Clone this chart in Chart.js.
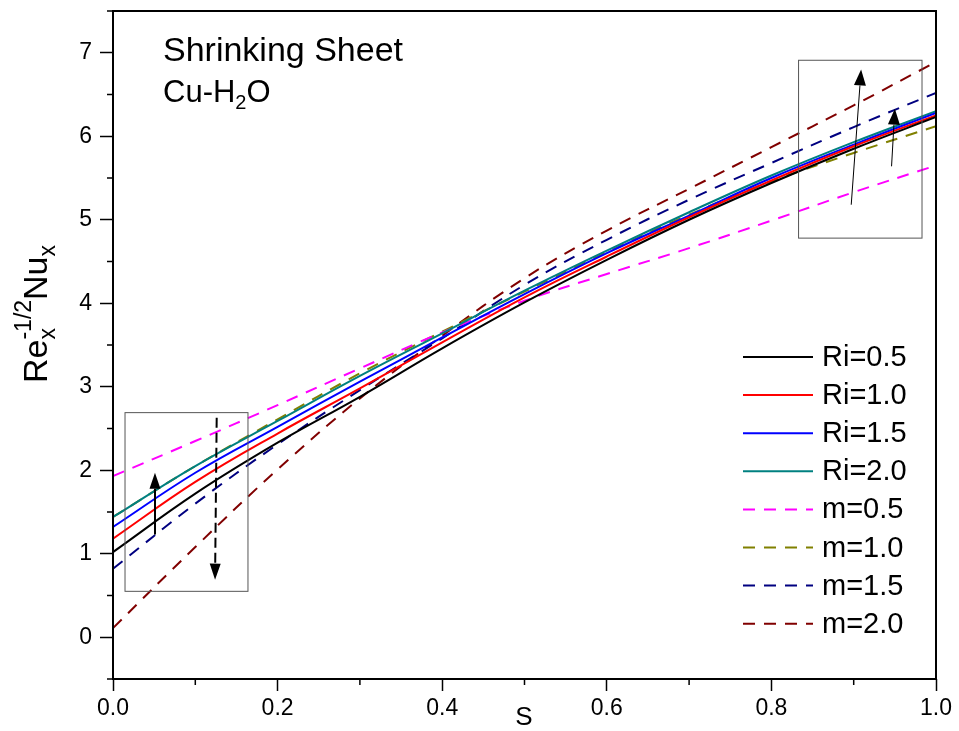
<!DOCTYPE html>
<html>
<head>
<meta charset="utf-8">
<script src="https://cdn.jsdelivr.net/npm/chart.js@4/dist/chart.umd.min.js"></script>
<style>
  body { margin: 0; background: #fff; }
  #wrap { width: 959px; height: 731px; }
</style>
</head>
<body>
<div id="wrap"><canvas id="nuChart"></canvas></div>
<script>
// S values (x axis)
const sValues = [0, 0.1, 0.2, 0.3, 0.4, 0.5, 0.6, 0.7, 0.8, 0.9, 1.0];

// Ri series (solid)
const ri05 = [1.02, 1.72, 2.33, 2.88, 3.46, 4.01, 4.52, 5.00, 5.44, 5.85, 6.23];
const ri10 = [1.18, 1.86, 2.44, 2.98, 3.53, 4.07, 4.56, 5.03, 5.47, 5.88, 6.25];
const ri15 = [1.32, 1.97, 2.52, 3.06, 3.59, 4.11, 4.60, 5.05, 5.50, 5.90, 6.28];
const ri20 = [1.44, 2.05, 2.59, 3.13, 3.64, 4.15, 4.63, 5.09, 5.53, 5.93, 6.30];

// m series (dashed)
const m05 = [1.93, 2.35, 2.78, 3.22, 3.65, 4.03, 4.35, 4.66, 4.99, 5.33, 5.65];
const m10 = [1.44, 2.05, 2.61, 3.16, 3.66, 4.14, 4.61, 5.06, 5.46, 5.80, 6.12];
const m15 = [0.82, 1.60, 2.31, 2.96, 3.58, 4.22, 4.76, 5.24, 5.68, 6.11, 6.52];
const m20 = [0.11, 1.08, 2.01, 2.86, 3.61, 4.30, 4.87, 5.37, 5.87, 6.37, 6.89];

const seriesLabels = ['Ri=0.5', 'Ri=1.0', 'Ri=1.5', 'Ri=2.0', 'm=0.5', 'm=1.0', 'm=1.5', 'm=2.0'];
const seriesValues = [ri05, ri10, ri15, ri20, m05, m10, m15, m20];
const seriesColors = ['#000000', '#ff0000', '#0000ff', '#008080', '#ff00ff', '#808000', '#000080', '#800000'];

const FONT = '"Liberation Sans", Arial, sans-serif';

function isMajor(v, step) {
  const r = v / step;
  return Math.abs(r - Math.round(r)) < 1e-6;
}

const datasets = seriesValues.map((vals, i) => ({
  label: seriesLabels[i],
  data: vals.map((v, j) => ({ x: sValues[j], y: v })),
  borderColor: seriesColors[i],
  borderWidth: 2,
  borderDash: i >= 4 ? [12, 9] : [],
  pointRadius: 0,
  fill: false,
  tension: 0.4
}));

// frame, minor ticks, titles, legend, boxes and arrows
const decorPlugin = {
  id: 'decor',
  afterDraw(chart) {
    const ctx = chart.ctx;
    const a = chart.chartArea;
    const xs = chart.scales.x;
    const ys = chart.scales.y;
    ctx.save();

    // frame
    ctx.strokeStyle = '#000';
    ctx.lineWidth = 2;
    ctx.setLineDash([]);
    ctx.strokeRect(a.left, a.top, a.right - a.left, a.bottom - a.top);

    // minor ticks
    ctx.lineWidth = 1.5;
    ctx.beginPath();
    for (let v = 0.1; v < 1; v += 0.2) {
      const px = xs.getPixelForValue(v);
      ctx.moveTo(px, a.bottom); ctx.lineTo(px, a.bottom + 6);
    }
    for (let v = -0.5; v <= 7.5; v += 1) {
      const py = ys.getPixelForValue(v);
      ctx.moveTo(a.left, py); ctx.lineTo(a.left - 6, py);
    }
    ctx.stroke();

    // x title
    ctx.fillStyle = '#000';
    ctx.font = '26px ' + FONT;
    ctx.textAlign = 'center';
    ctx.textBaseline = 'middle';
    ctx.fillText('S', 524, 718);

    // y title
    ctx.save();
    ctx.translate(47, 314);
    ctx.rotate(-Math.PI / 2);
    ctx.textAlign = 'left';
    ctx.textBaseline = 'alphabetic';
    ctx.font = '34px ' + FONT;
    const wRe = ctx.measureText('Re').width;
    ctx.font = '23px ' + FONT;
    const wSub = ctx.measureText('x').width;
    const wSup = ctx.measureText('-1/2').width;
    ctx.font = '34px ' + FONT;
    const wNu = ctx.measureText('Nu').width;
    const total = wRe + Math.max(wSub, wSup) + wNu + wSub;
    let cx = -total / 2;
    ctx.fillText('Re', cx, 0);
    cx += wRe;
    ctx.font = '23px ' + FONT;
    ctx.fillText('x', cx, 8);
    ctx.fillText('-1/2', cx, -16);
    cx += Math.max(wSub, wSup);
    ctx.font = '34px ' + FONT;
    ctx.fillText('Nu', cx, 0);
    cx += wNu;
    ctx.font = '23px ' + FONT;
    ctx.fillText('x', cx, 8);
    ctx.restore();

    // inner text
    ctx.textAlign = 'left';
    ctx.textBaseline = 'alphabetic';
    ctx.font = '34px ' + FONT;
    ctx.fillText('Shrinking Sheet', 163, 61);
    ctx.font = '31px ' + FONT;
    let tx = 163;
    ctx.fillText('Cu-H', tx, 102);
    tx += ctx.measureText('Cu-H').width;
    ctx.font = '20px ' + FONT;
    ctx.fillText('2', tx, 109);
    tx += ctx.measureText('2').width;
    ctx.font = '31px ' + FONT;
    ctx.fillText('O', tx, 102);

    // legend
    chart.data.datasets.forEach((ds, i) => {
      const ly = 357 + i * 38.1;
      ctx.strokeStyle = ds.borderColor;
      ctx.lineWidth = 2;
      ctx.setLineDash(ds.borderDash);
      ctx.beginPath();
      ctx.moveTo(743, ly); ctx.lineTo(813, ly);
      ctx.stroke();
      ctx.setLineDash([]);
      ctx.fillStyle = '#000';
      ctx.font = '29px ' + FONT;
      ctx.textBaseline = 'middle';
      ctx.fillText(ds.label, 822, ly + 1);
    });

    // boxes
    ctx.strokeStyle = '#555';
    ctx.lineWidth = 1;
    const box = (x0, y0, x1, y1) => {
      const px0 = xs.getPixelForValue(x0), px1 = xs.getPixelForValue(x1);
      const py0 = ys.getPixelForValue(y0), py1 = ys.getPixelForValue(y1);
      ctx.strokeRect(px0, py1, px1 - px0, py0 - py1);
    };
    box(0.0146, 0.55, 0.164, 2.69);
    box(0.833, 4.78, 0.983, 6.91);

    // arrows
    const arrow = (x0, y0, x1, y1, dash, w, hl, hw) => {
      const p0x = xs.getPixelForValue(x0), p0y = ys.getPixelForValue(y0);
      const p1x = xs.getPixelForValue(x1), p1y = ys.getPixelForValue(y1);
      const ang = Math.atan2(p1y - p0y, p1x - p0x);
      const bx = p1x - hl * Math.cos(ang), by = p1y - hl * Math.sin(ang);
      ctx.strokeStyle = '#000';
      ctx.fillStyle = '#000';
      ctx.lineWidth = w;
      ctx.setLineDash(dash);
      ctx.beginPath();
      ctx.moveTo(p0x, p0y); ctx.lineTo(bx, by);
      ctx.stroke();
      ctx.setLineDash([]);
      ctx.beginPath();
      ctx.moveTo(p1x, p1y);
      ctx.lineTo(bx + hw * Math.sin(ang), by - hw * Math.cos(ang));
      ctx.lineTo(bx - hw * Math.sin(ang), by + hw * Math.cos(ang));
      ctx.closePath();
      ctx.fill();
    };
    arrow(0.051, 1.23, 0.051, 1.97, [], 2, 16, 5.5);
    arrow(0.126, 2.63, 0.124, 0.69, [10, 5], 2, 16, 5.5);
    arrow(0.897, 5.18, 0.909, 6.80, [], 1, 16, 6);
    arrow(0.946, 5.64, 0.950, 6.33, [], 1, 16, 6);

    ctx.restore();
  }
};

new Chart(document.getElementById('nuChart'), {
  type: 'line',
  data: { datasets: datasets },
  options: {
    responsive: true,
    maintainAspectRatio: false,
    animation: false,
    layout: { padding: { top: 11, right: 23, left: 0, bottom: 0 } },
    plugins: { legend: { display: false }, tooltip: { enabled: false } },
    scales: {
      x: {
        type: 'linear',
        min: 0,
        max: 1,
        afterFit: (scale) => {
          scale.height = 52;
          scale.paddingLeft = 0;
          scale.paddingRight = 0;
        },
        border: { display: false },
        grid: {
          drawOnChartArea: false,
          tickLength: 12,
          tickWidth: 1.5,
          tickColor: (c) => (c.tick && isMajor(c.tick.value, 0.2) ? '#000' : 'rgba(0,0,0,0)')
        },
        ticks: {
          stepSize: 0.1,
          autoSkip: false,
          maxRotation: 0,
          padding: 4,
          color: '#000',
          font: { family: FONT, size: 23 },
          callback: (v) => (isMajor(v, 0.2) ? v.toFixed(1) : '')
        }
      },
      y: {
        min: -0.5,
        max: 7.5,
        afterFit: (scale) => {
          scale.width = 113;
          scale.paddingTop = 0;
          scale.paddingBottom = 0;
        },
        border: { display: false },
        grid: {
          drawOnChartArea: false,
          tickLength: 13,
          tickWidth: 1.5,
          tickColor: (c) => (c.tick && isMajor(c.tick.value, 1) ? '#000' : 'rgba(0,0,0,0)')
        },
        ticks: {
          stepSize: 0.5,
          autoSkip: false,
          padding: 8,
          color: '#000',
          font: { family: FONT, size: 23 },
          callback: (v) => (isMajor(v, 1) ? String(Math.round(v)) : '')
        }
      }
    }
  },
  plugins: [decorPlugin]
});
</script>
</body>
</html>
